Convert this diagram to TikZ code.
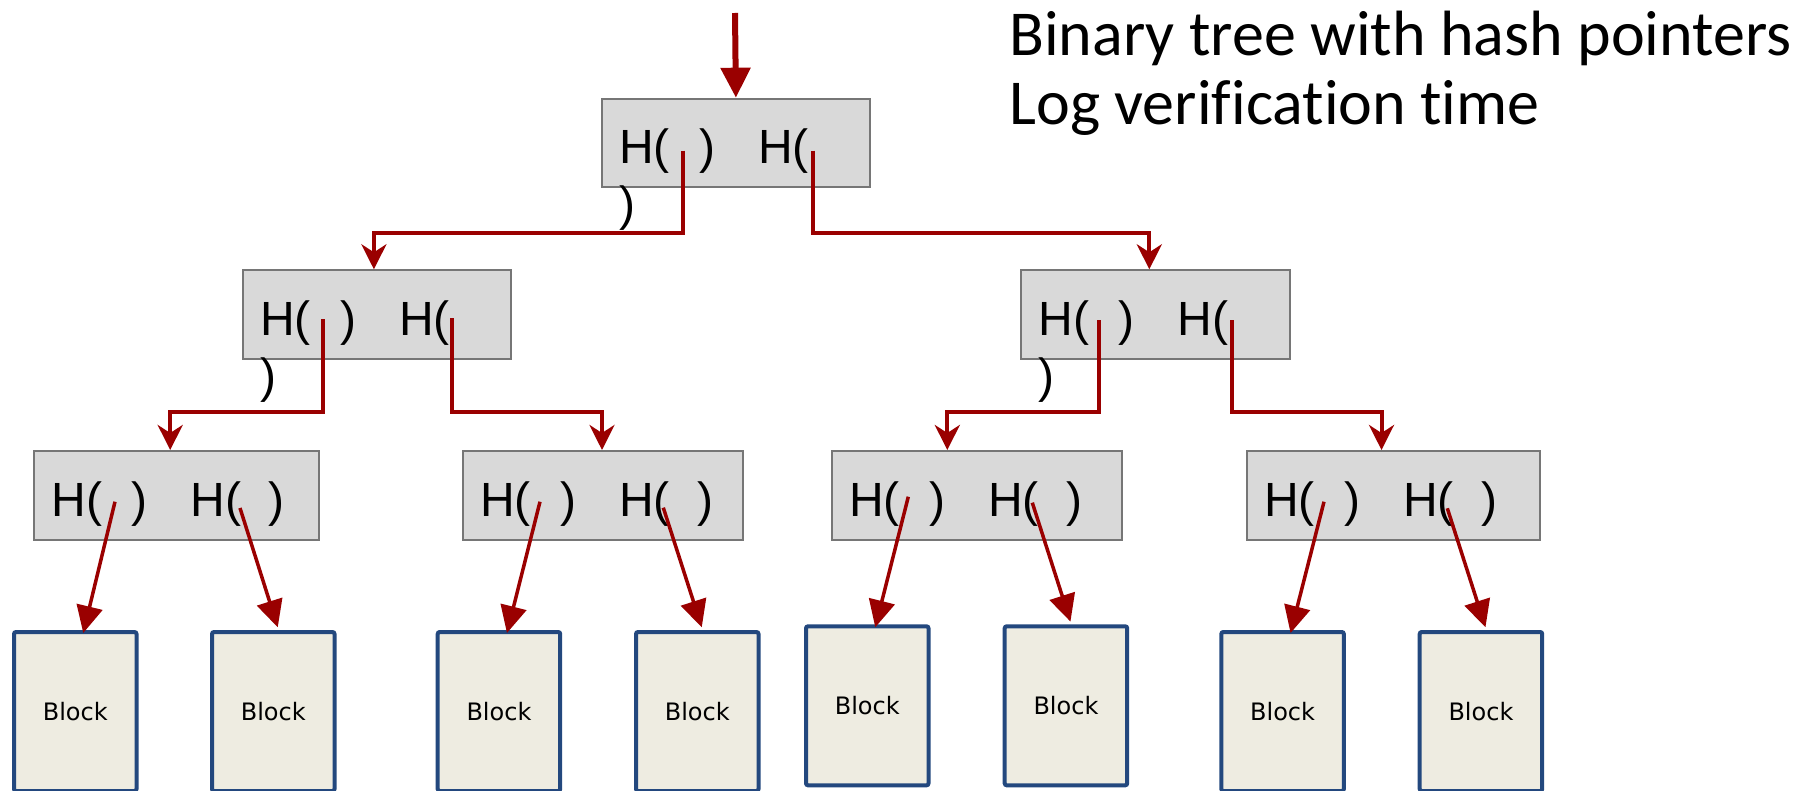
\documentclass[tikz,border=0pt]{standalone}
\usepackage{fontspec}
\setmainfont{Liberation Sans}
\newfontfamily\hashfont{Liberation Sans}
\newfontfamily\blockfont{DejaVu Sans}
\newfontfamily\titlefont[Ligatures=NoCommon]{Carlito}
\usetikzlibrary{arrows.meta,calc}

\definecolor{ptrred}{HTML}{9A0000}
\definecolor{hashfill}{HTML}{D9D9D9}
\definecolor{hashline}{HTML}{767676}
\definecolor{blockfill}{HTML}{EEECE1}
\definecolor{blockline}{HTML}{23487E}

\tikzset{
  hashbox/.style={draw=hashline, fill=hashfill, line width=1pt,
    rectangle, anchor=north west, inner sep=0pt},
  blockbox/.style={draw=blockline, fill=blockfill, line width=2pt,
    rounded corners=1pt, rectangle, anchor=north west, inner sep=0pt,
    minimum width=61.25pt, minimum height=79.5pt,
    font=\blockfont\fontsize{12}{14}\selectfont},
  hashtext/.style={anchor=base west, inner sep=0pt,
    font=\hashfont\fontsize{24}{28.5}\selectfont},
  elbow/.style={draw=ptrred, line width=2pt,
    -{Stealth[length=12.5pt, width=12.5pt, inset=4pt]}},
  leafptr/.style={draw=ptrred, line width=1.75pt,
    -{Triangle[length=13.5pt, width=13pt]}},
  rootptr/.style={draw=ptrred, line width=3pt,
    -{Triangle[length=15pt, width=14.5pt]}},
}

% one line of two hash pointers; #1 = closing parenthesis of the right one
\newcommand\hashpair[1]{\makebox[40pt][l]{H(}\makebox[29.5pt][l]{)}\makebox[39pt][l]{H(}#1}
\newcommand\wrapparen{\rlap{\raisebox{-28.5pt}{)}}}

\begin{document}
\begin{tikzpicture}[x=0.5pt, y=-0.5pt]
\useasboundingbox (0,0) rectangle (1818,791);

% title (anchored on the baseline of its last line)
\node[anchor=base west, inner sep=0pt, align=left,
  font=\titlefont\fontsize{32}{34.5}\selectfont] (title) at (1009,125)
  {Binary tree with hash pointers\\Log verification time};

% hash pointer boxes
\node[hashbox, minimum width=134.2pt, minimum height=44.2pt] (root) at (600.7,97.7) {};
\node[hashbox, minimum width=134.2pt, minimum height=44.5pt] (ia) at (241.7,269.3) {};
\node[hashbox, minimum width=134.3pt, minimum height=44.5pt] (ib) at (1020,269.3) {};
\node[hashbox, minimum width=142.6pt, minimum height=44.5pt] (la) at (33,450) {};
\node[hashbox, minimum width=140pt, minimum height=44.5pt] (lb) at (461.7,450) {};
\node[hashbox, minimum width=145.2pt, minimum height=44.5pt] (lc) at (830.7,450) {};
\node[hashbox, minimum width=146.8pt, minimum height=44.5pt] (ld) at (1245.7,450) {};

% texts of the boxes
\node[hashtext] (roottxt) at ($(root.north west)+(18,65.5)$) {\wrapparen\hashpair{}};
\node[hashtext] (iatxt) at ($(ia.north west)+(18,65.7)$) {\wrapparen\hashpair{}};
\node[hashtext] (ibtxt) at ($(ib.north west)+(18,65.7)$) {\wrapparen\hashpair{}};
\node[hashtext] (latxt) at ($(la.north west)+(18,66)$) {\hashpair{)}};
\node[hashtext] (lbtxt) at ($(lb.north west)+(18,66)$) {\hashpair{)}};
\node[hashtext] (lctxt) at ($(lc.north west)+(18,66)$) {\hashpair{)}};
\node[hashtext] (ldtxt) at ($(ld.north west)+(18,66)$) {\hashpair{)}};

% data blocks
\node[blockbox] (b1) at (12,630) {Block};
\node[blockbox] (b2) at (210,630) {Block};
\node[blockbox] (b3) at (435.7,630) {Block};
\node[blockbox] (b4) at (634,630) {Block};
\node[blockbox] (b5) at (804,624.3) {Block};
\node[blockbox] (b6) at (1002.7,624.3) {Block};
\node[blockbox] (b7) at (1219.3,630) {Block};
\node[blockbox] (b8) at (1417.7,630) {Block};

% pointer origins
\coordinate (top) at (735,13);
\coordinate (rootL) at ($(root.north west)+(82,53)$);
\coordinate (rootR) at ($(root.north west)+(212.6,53)$);
\coordinate (iaL) at ($(ia.north west)+(81,50)$);
\coordinate (iaR) at ($(ia.north west)+(210,49)$);
\coordinate (ibL) at ($(ib.north west)+(78.5,50.7)$);
\coordinate (ibR) at ($(ib.north west)+(212,50.7)$);
\coordinate (laL) at ($(la.north west)+(82,51.7)$);
\coordinate (laR) at ($(la.north west)+(207,58)$);
\coordinate (lbL) at ($(lb.north west)+(78.3,51.7)$);
\coordinate (lbR) at ($(lb.north west)+(201.6,57.7)$);
\coordinate (lcL) at ($(lc.north west)+(77.6,46.7)$);
\coordinate (lcR) at ($(lc.north west)+(201.6,52.7)$);
\coordinate (ldL) at ($(ld.north west)+(78.3,51.7)$);
\coordinate (ldR) at ($(ld.north west)+(201.6,58.3)$);

% pointer into the root
\draw[rootptr] (top) -- (root.north);

% tree pointers
\draw[elbow] (rootL) |- ($(ia.north)+(-3,-36)$) -- ($(ia.north)+(-3,0)$);
\draw[elbow] (rootR) |- ($(ib.north)+(-6,-36)$) -- ($(ib.north)+(-6,0)$);
\draw[elbow] (iaL) |- ($(la.north)+(-6.4,-38)$) -- ($(la.north)+(-6.4,0)$);
\draw[elbow] (iaR) |- ($(lb.north)+(-0.7,-38)$) -- ($(lb.north)+(-0.7,0)$);
\draw[elbow] (ibL) |- ($(lc.north)+(-29.6,-38)$) -- ($(lc.north)+(-29.6,0)$);
\draw[elbow] (ibR) |- ($(ld.north)+(-12,-38)$) -- ($(ld.north)+(-12,0)$);

% pointers to the blocks
\draw[leafptr] (laL) -- ($(b1.north)+(8,3)$);
\draw[leafptr] (laR) -- ($(b2.north)+(4.5,-2.7)$);
\draw[leafptr] (lbL) -- ($(b3.north)+(8,3)$);
\draw[leafptr] (lbR) -- ($(b4.north)+(4.5,-2.7)$);
\draw[leafptr] (lcL) -- ($(b5.north)+(8,3)$);
\draw[leafptr] (lcR) -- ($(b6.north)+(4.5,-2.7)$);
\draw[leafptr] (ldL) -- ($(b7.north)+(8,3)$);
\draw[leafptr] (ldR) -- ($(b8.north)+(4.5,-2.7)$);
\end{tikzpicture}
\end{document}
